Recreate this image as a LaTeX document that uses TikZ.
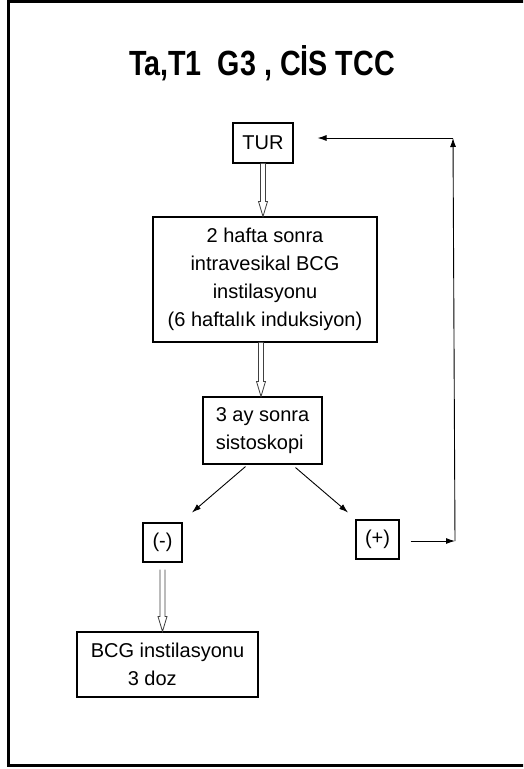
\documentclass[tikz,border=0pt]{standalone}
\usepackage{fontspec}
\setmainfont{Liberation Sans}
\newfontfamily\titlefont[FakeStretch=0.82]{Liberation Sans}
\usetikzlibrary{calc,arrows.meta}
\tikzset{
  box/.style={draw, line width=1.1pt, inner sep=0pt, font=\fontsize{20}{28}\selectfont},
  thinarrow/.style={line width=0.9pt, -{Latex[length=9pt,width=6pt]}},
  hollow/.style={draw=black!75, line width=0.8pt, fill=white, line join=miter},
}
\newcommand{\harrow}[2]{%
  \draw[hollow] ($(#1)+(-2.5,0)$) -- ($(#2)+(-2.5,-15)$) -- ($(#2)+(-4.5,-15)$) -- (#2)
    -- ($(#2)+(4.5,-15)$) -- ($(#2)+(2.5,-15)$) -- ($(#1)+(2.5,0)$);}
\begin{document}
\begin{tikzpicture}[x=1pt,y=-1pt]
  \useasboundingbox (0,0) rectangle (523,769);
  \clip (0,0) rectangle (523,769);
  \fill[white] (0,0) rectangle (523,769);
  \draw[line width=3pt] (8,1) rectangle (545,765);

  \node[anchor=base, font=\titlefont\bfseries\fontsize{35}{40}\selectfont] (title) at (262,75) {Ta,T1\ \ G3 , CİS TCC};

  \node[box, minimum width=60pt, minimum height=40pt] (tur) at (263,143) {TUR};
  \node[box, align=center, minimum width=224pt, minimum height=125pt] (b2) at (265,279.5)
    {2 hafta sonra\\intravesikal BCG\\instilasyonu\\(6 haftalık induksiyon)};
  \node[box, align=left, minimum width=119pt, minimum height=67pt] (b3) at (262.5,430.5)
    {3 ay sonra\\sistoskopi};
  \node[box, minimum width=39pt, minimum height=39pt] (neg) at (162.5,542.5) {(-)};
  \node[box, minimum width=43pt, minimum height=39pt] (pos) at (377.5,539.5) {(+)};
  \node[box, align=left, minimum width=181pt, minimum height=65pt] (bcg) at (167.5,664.5)
    {BCG instilasyonu\\\hspace*{37pt}3 doz};

  % hollow arrows
  \coordinate (h1) at (tur.south |- b2.north);
  \harrow{tur.south}{h1}
  \coordinate (h2s) at ($(b2.south)+(-4,0)$);
  \coordinate (h2) at (h2s |- b3.north);
  \harrow{h2s}{h2}
  \coordinate (h3s) at ($(neg.south)+(0,7)$);
  \coordinate (h3) at (h3s |- bcg.north);
  \harrow{h3s}{h3}

  % diagonal arrows
  \draw[thinarrow] ($(b3.south)+(-17,2)$) -- ($(neg.north)+(29.5,-10)$);
  \draw[thinarrow] ($(b3.south)+(33,3)$) -- ($(pos.north)+(-29.5,-7)$);

  % feedback loop
  \coordinate (c1) at (455,541);
  \coordinate (c2) at (453,138);
  \draw[thinarrow, shorten <=11pt] (pos.east |- c1) -- (c1);
  \draw[thinarrow] (c1) -- (c2);
  \draw[thinarrow, shorten >=24pt] (c2) -- (c2 -| tur.east);
\end{tikzpicture}
\end{document}
